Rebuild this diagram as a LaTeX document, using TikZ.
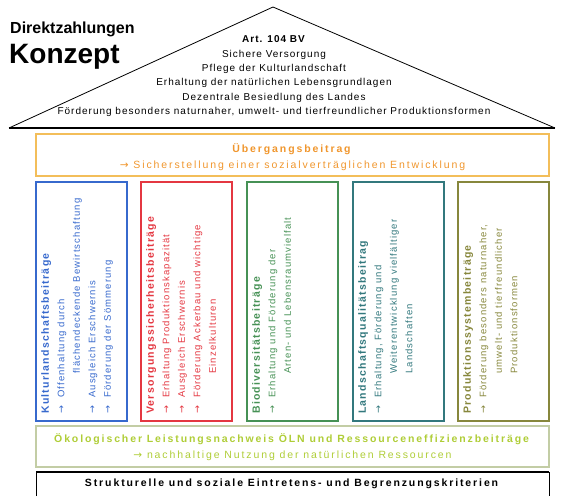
\documentclass[tikz,border=0pt]{standalone}
\usepackage{fontspec}
\setmainfont{Liberation Sans}
\newfontfamily\dzfont{Liberation Sans}[LetterSpace=12]
\newfontfamily\bandfont{Liberation Sans}[LetterSpace=18]
\newfontfamily\rooffont{Liberation Sans}[LetterSpace=10]
\newfontfamily\arrowfont{DejaVu Sans}
\usetikzlibrary{positioning}
\definecolor{dzorange}{RGB}{240,150,45}
\definecolor{dzorangeline}{RGB}{243,190,90}
\definecolor{dzblue}{RGB}{55,105,205}
\definecolor{dzred}{RGB}{228,55,65}
\definecolor{dzgreen}{RGB}{70,145,85}
\definecolor{dzteal}{RGB}{50,120,125}
\definecolor{dzolive}{RGB}{135,135,60}
\definecolor{dzoln}{RGB}{175,205,55}
\definecolor{dzolnline}{RGB}{195,205,165}
\newcommand{\rarr}{{\arrowfont →}}
\newcommand{\arr}{\makebox[16pt][l]{\rarr}}
\newcommand{\cont}{\hspace*{40pt}}
\tikzset{
  pillar/.style={draw=#1, line width=1.3pt},
  pillartext/.style={rotate=90, anchor=north west, inner sep=0pt, align=left,
    text=#1, font=\dzfont\fontsize{9.5}{15.5}\selectfont},
  rooftext/.style={font=\rooffont\fontsize{10}{14.3}\selectfont, align=center},
  bandtext/.style={font=\bandfont\fontsize{10.5}{16}\selectfont, align=center}
}
\begin{document}
\begin{tikzpicture}[x=1pt, y=-1pt]
  \useasboundingbox (0,0) rectangle (563,497);
  % roof
  \draw[line width=0.8pt] (9,128) -- (273,7) -- (555,128);
  \draw[line width=1.5pt] (9,128) -- (555,128);
  \node[anchor=base west, inner sep=0pt, font=\bfseries\fontsize{16}{18}\selectfont] (dz) at (10,34) {Direktzahlungen};
  \node[anchor=base west, inner sep=0pt, font=\bfseries\fontsize{28}{30}\selectfont] (konzept) at (9,64) {Konzept};
  \node[rooftext, anchor=base, inner sep=0pt] (art) at (274,114.5) {\textbf{Art. 104 BV}\\
    Sichere Versorgung\\
    Pflege der Kulturlandschaft\\
    Erhaltung der natürlichen Lebensgrundlagen\\
    Dezentrale Besiedlung des Landes\\
    Förderung besonders naturnaher, umwelt- und tierfreundlicher Produktionsformen};
  % Uebergangsbeitrag
  \draw[draw=dzorangeline, line width=1.3pt] (36,134) rectangle (549,176);
  \node[bandtext, text=dzorange] (ueb) at (292.5,157) {\textbf{Übergangsbeitrag}\\
    \rarr{} Sicherstellung einer sozialverträglichen Entwicklung};
  % pillars
  \draw[pillar=dzblue] (36,182) rectangle (127,421);
  \node[pillartext=dzblue] (kultur) at (41,414) {\textbf{\fontsize{10.5}{15.5}\selectfont Kulturlandschaftsbeiträge}\\
    \arr Offenhaltung durch\\
    \cont flächendeckende Bewirtschaftung\\
    \arr Ausgleich Erschwernis\\
    \arr Förderung der Sömmerung};
  \draw[pillar=dzred] (141,182) rectangle (232,421);
  \node[pillartext=dzred] (versorgung) at (146,414) {\textbf{\fontsize{10.5}{15.5}\selectfont Versorgungssicherheitsbeiträge}\\
    \arr Erhaltung Produktionskapazität\\
    \arr Ausgleich Erschwernis\\
    \arr Förderung Ackerbau und wichtige\\
    \cont Einzelkulturen};
  \draw[pillar=dzgreen] (247,182) rectangle (338,421);
  \node[pillartext=dzgreen] (bio) at (252,414) {\textbf{\fontsize{10.5}{15.5}\selectfont Biodiversitätsbeiträge}\\
    \arr Erhaltung und Förderung der\\
    \cont Arten- und Lebensraumvielfalt};
  \draw[pillar=dzteal] (353,182) rectangle (444,421);
  \node[pillartext=dzteal] (lq) at (358,414) {\textbf{\fontsize{10.5}{15.5}\selectfont Landschaftsqualitätsbeitrag}\\
    \arr Erhaltung, Förderung und\\
    \cont Weiterentwicklung vielfältiger\\
    \cont Landschaften};
  \draw[pillar=dzolive] (458,182) rectangle (549,421);
  \node[pillartext=dzolive] (ps) at (463,414) {\textbf{\fontsize{10.5}{15.5}\selectfont Produktionssystembeiträge}\\
    \arr Förderung besonders naturnaher,\\
    \cont umwelt- und tierfreundlicher\\
    \cont Produktionsformen};
  % OELN
  \draw[draw=dzolnline, line width=1.3pt] (36,426) rectangle (549,467);
  \node[bandtext, text=dzoln] (oeln) at (292.5,447) {\textbf{Ökologischer Leistungsnachweis ÖLN und Ressourceneffizienzbeiträge}\\
    \rarr{} nachhaltige Nutzung der natürlichen Ressourcen};
  % base
  \draw[line width=1pt] (36,496) -- (36,472) -- (549,472) -- (549,496);
  \draw[line width=2.5pt] (36,472) -- (549,472);
  \node[bandtext] (kriterien) at (292.5,484) {\textbf{Strukturelle und soziale Eintretens- und Begrenzungskriterien}};
\end{tikzpicture}
\end{document}
